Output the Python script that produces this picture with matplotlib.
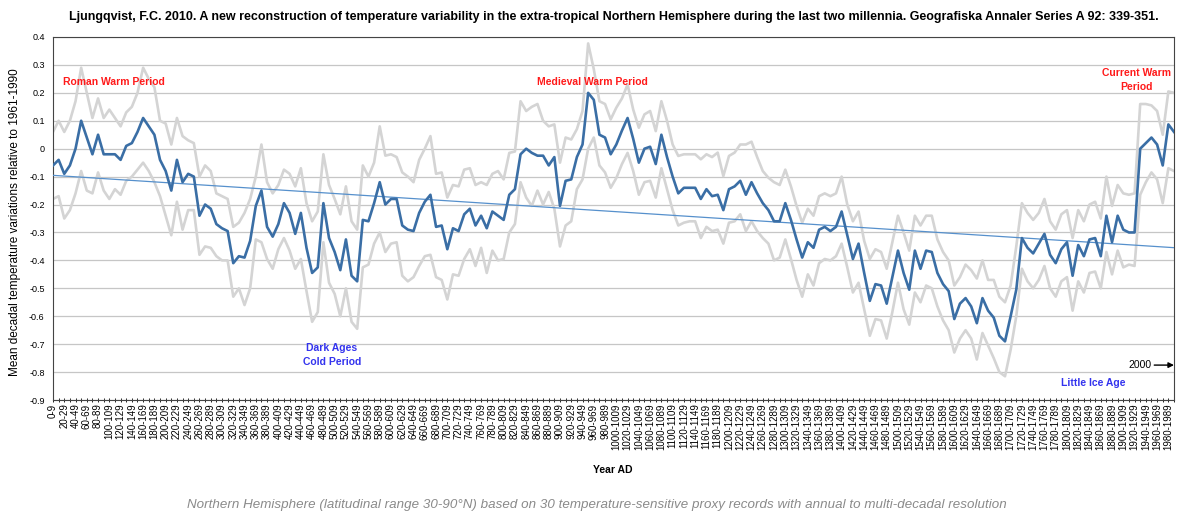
import numpy as np
import matplotlib
matplotlib.use('Agg')
import matplotlib.pyplot as plt

plt.rcParams['font.family'] = ['Liberation Sans', 'DejaVu Sans']

# Десятилетия 0-9 ... 1990-1999
decades = list(range(0, 2000, 10))
labels = [f"{d}-{d + 9}" for d in decades]

# Реконструкция (средняя)
recon = [
    -0.06, -0.04, -0.09, -0.06, 0.00, 0.10, 0.04, -0.02, 0.05, -0.02,
    -0.02, -0.02, -0.04, 0.01, 0.02, 0.06, 0.11, 0.08, 0.05, -0.04,
    -0.08, -0.15, -0.04, -0.12, -0.09, -0.10, -0.24, -0.20, -0.215, -0.27,
    -0.285, -0.295, -0.41, -0.385, -0.39, -0.33, -0.205, -0.15, -0.28, -0.315,
    -0.27, -0.195, -0.23, -0.305, -0.23, -0.355, -0.445, -0.425, -0.195, -0.32,
    -0.37, -0.435, -0.325, -0.455, -0.475, -0.255, -0.26, -0.195, -0.12, -0.20,
    -0.18, -0.18, -0.275, -0.29, -0.295, -0.23, -0.19, -0.165, -0.28, -0.275,
    -0.36, -0.285, -0.295, -0.235, -0.215, -0.275, -0.24, -0.285, -0.225, -0.24,
    -0.255, -0.165, -0.145, -0.02, 0.00, -0.015, -0.025, -0.025, -0.06, -0.03,
    -0.205, -0.115, -0.11, -0.03, 0.015, 0.20, 0.175, 0.05, 0.04, -0.02,
    0.015, 0.065, 0.11, 0.035, -0.05, 0.00, 0.007, -0.055, 0.05, -0.03,
    -0.10, -0.16, -0.14, -0.14, -0.14, -0.18, -0.145, -0.17, -0.165, -0.22,
    -0.145, -0.135, -0.115, -0.165, -0.12, -0.16, -0.195, -0.22, -0.26, -0.26,
    -0.195, -0.255, -0.325, -0.39, -0.335, -0.355, -0.29, -0.28, -0.295, -0.28,
    -0.225, -0.31, -0.395, -0.34, -0.445, -0.545, -0.485, -0.49, -0.555, -0.46,
    -0.365, -0.445, -0.505, -0.365, -0.43, -0.365, -0.37, -0.445, -0.485, -0.51,
    -0.61, -0.555, -0.535, -0.565, -0.625, -0.535, -0.58, -0.605, -0.67, -0.69,
    -0.60, -0.505, -0.32, -0.355, -0.375, -0.34, -0.305, -0.38, -0.41, -0.36,
    -0.335, -0.455, -0.345, -0.385, -0.325, -0.32, -0.385, -0.24, -0.335, -0.24,
    -0.29, -0.30, -0.30, 0.00, 0.02, 0.04, 0.015, -0.06, 0.087, 0.06,
]

# Верхняя граница
upper = [
    0.06, 0.10, 0.06, 0.10, 0.17, 0.29, 0.20, 0.11, 0.18, 0.11,
    0.14, 0.11, 0.08, 0.13, 0.15, 0.20, 0.29, 0.25, 0.22, 0.10,
    0.09, 0.015, 0.11, 0.045, 0.03, 0.02, -0.10, -0.06, -0.08, -0.16,
    -0.17, -0.18, -0.28, -0.265, -0.23, -0.18, -0.10, 0.015, -0.12, -0.16,
    -0.13, -0.075, -0.09, -0.135, -0.07, -0.195, -0.26, -0.225, -0.02, -0.13,
    -0.18, -0.235, -0.135, -0.26, -0.29, -0.06, -0.10, -0.05, 0.08, -0.025,
    -0.02, -0.03, -0.085, -0.10, -0.12, -0.04, 0.00, 0.045, -0.09, -0.085,
    -0.175, -0.13, -0.135, -0.075, -0.07, -0.13, -0.12, -0.13, -0.09, -0.08,
    -0.11, -0.015, -0.01, 0.17, 0.135, 0.15, 0.16, 0.10, 0.08, 0.087,
    -0.05, 0.04, 0.033, 0.07, 0.135, 0.377, 0.285, 0.17, 0.16, 0.105,
    0.147, 0.18, 0.23, 0.14, 0.075, 0.123, 0.135, 0.063, 0.17, 0.10,
    0.015, -0.026, -0.02, -0.02, -0.02, -0.038, -0.02, -0.03, -0.014, -0.098,
    -0.026, -0.014, 0.015, 0.015, 0.025, -0.03, -0.08, -0.104, -0.12, -0.13,
    -0.075, -0.135, -0.205, -0.265, -0.215, -0.24, -0.17, -0.16, -0.17, -0.16,
    -0.10, -0.20, -0.26, -0.225, -0.33, -0.395, -0.36, -0.37, -0.43, -0.335,
    -0.24, -0.30, -0.365, -0.24, -0.275, -0.24, -0.24, -0.325, -0.37, -0.40,
    -0.49, -0.46, -0.415, -0.435, -0.465, -0.40, -0.47, -0.47, -0.53, -0.55,
    -0.49, -0.35, -0.195, -0.23, -0.255, -0.23, -0.18, -0.26, -0.29, -0.235,
    -0.22, -0.32, -0.22, -0.26, -0.20, -0.19, -0.25, -0.10, -0.205, -0.13,
    -0.16, -0.165, -0.16, 0.16, 0.16, 0.155, 0.135, 0.05, 0.205, 0.20,
]

# Нижняя граница
lower = [
    -0.18, -0.17, -0.25, -0.22, -0.16, -0.08, -0.15, -0.16, -0.085, -0.15,
    -0.18, -0.145, -0.165, -0.115, -0.10, -0.075, -0.05, -0.08, -0.12, -0.17,
    -0.24, -0.31, -0.19, -0.29, -0.22, -0.22, -0.38, -0.35, -0.355, -0.385,
    -0.40, -0.40, -0.53, -0.50, -0.56, -0.50, -0.325, -0.335, -0.395, -0.43,
    -0.36, -0.32, -0.365, -0.43, -0.395, -0.51, -0.62, -0.585, -0.335, -0.48,
    -0.52, -0.60, -0.50, -0.62, -0.645, -0.425, -0.415, -0.34, -0.30, -0.37,
    -0.34, -0.335, -0.455, -0.475, -0.46, -0.42, -0.385, -0.38, -0.46, -0.47,
    -0.54, -0.45, -0.455, -0.395, -0.36, -0.42, -0.355, -0.445, -0.365, -0.40,
    -0.395, -0.30, -0.27, -0.12, -0.175, -0.205, -0.15, -0.20, -0.155, -0.215,
    -0.35, -0.275, -0.26, -0.145, -0.11, 0.00, 0.04, -0.06, -0.085, -0.14,
    -0.105, -0.055, -0.015, -0.08, -0.165, -0.12, -0.115, -0.175, -0.07, -0.145,
    -0.22, -0.275, -0.265, -0.26, -0.26, -0.32, -0.28, -0.295, -0.29, -0.34,
    -0.265, -0.26, -0.235, -0.295, -0.26, -0.295, -0.32, -0.34, -0.40, -0.39,
    -0.325, -0.395, -0.47, -0.53, -0.45, -0.49, -0.41, -0.395, -0.40, -0.385,
    -0.34, -0.425, -0.515, -0.48, -0.575, -0.67, -0.61, -0.615, -0.68, -0.585,
    -0.48, -0.575, -0.63, -0.515, -0.55, -0.49, -0.50, -0.565, -0.615, -0.65,
    -0.73, -0.68, -0.65, -0.68, -0.755, -0.66, -0.705, -0.75, -0.80, -0.815,
    -0.72, -0.60, -0.43, -0.475, -0.50, -0.47, -0.42, -0.50, -0.53, -0.475,
    -0.46, -0.58, -0.475, -0.515, -0.445, -0.44, -0.50, -0.37, -0.45, -0.365,
    -0.425, -0.415, -0.42, -0.165, -0.12, -0.085, -0.11, -0.195, -0.07, -0.08,
]

x = np.arange(len(decades))

# Линейный тренд (как в Excel)
k, b = np.polyfit(x, recon, 1)
trend = k * x + b

fig = plt.figure(figsize=(11.79, 5.13), dpi=100)
ax = fig.add_axes([53 / 1179, 1 - 400 / 513, 1121 / 1179, 363 / 513])

ax.plot(x, upper, color='#d4d4d4', lw=1.9, zorder=2)
ax.plot(x, lower, color='#d4d4d4', lw=1.9, zorder=2)
ax.plot(x, trend, color='#5690cc', lw=0.9, zorder=3)
ax.plot(x, recon, color='#3a6ea5', lw=1.9, zorder=4)

ax.set_xlim(0, len(decades) - 1)
ax.set_ylim(-0.9, 0.4)
yt = np.round(np.arange(-0.9, 0.41, 0.1), 1)
ax.set_yticks(yt)
ax.set_yticklabels(['0' if v == 0 else f'{v:.1f}' for v in yt], fontsize=6.5)
ax.tick_params(axis='y', length=0, pad=6)
ax.grid(axis='y', color='#c6c6c6', lw=0.9)
ax.set_axisbelow(True)

ax.set_xticks(x, minor=True)
ax.set_xticks(x[::2])
ax.set_xticklabels(labels[::2], rotation=90, fontsize=7)
ax.tick_params(axis='x', which='both', direction='inout', length=3, width=0.6, pad=1)

for s in ax.spines.values():
    s.set_color('#444444')
    s.set_linewidth(0.8)

# Подписи периодов
ax.text(10.8, 0.24, 'Roman Warm Period', color='#ff1a1a', fontsize=7.5,
        fontweight='bold', ha='center', va='center')
ax.text(95.7, 0.24, 'Medieval Warm Period', color='#ff1a1a', fontsize=7.5,
        fontweight='bold', ha='center', va='center')
ax.text(192.3, 0.245, 'Current Warm\nPeriod', color='#ff1a1a', fontsize=7.5,
        fontweight='bold', ha='center', va='center', linespacing=1.5)
ax.text(49.5, -0.74, 'Dark Ages\nCold Period', color='#3333ee', fontsize=7.5,
        fontweight='bold', ha='center', va='center', linespacing=1.5)
ax.text(184.6, -0.84, 'Little Ice Age', color='#3333ee', fontsize=7.5,
        fontweight='bold', ha='center', va='center')
ax.annotate('2000', xy=(199, -0.775), xytext=(195.0, -0.775), fontsize=7.5,
            ha='right', va='center',
            arrowprops=dict(arrowstyle='-|>', color='black', lw=1,
                            mutation_scale=8, shrinkA=0, shrinkB=0))

fig.text(614 / 1179, 1 - 17 / 513,
         'Ljungqvist, F.C. 2010. A new reconstruction of temperature variability in the '
         'extra-tropical Northern Hemisphere during the last two millennia. '
         'Geografiska Annaler Series A 92: 339-351.',
         ha='center', va='center', fontsize=9, fontweight='bold')
fig.text(15 / 1179, 1 - 222 / 513, 'Mean decadal temperature variations relative to 1961-1990',
         rotation=90, ha='center', va='center', fontsize=8.5)
fig.text(613 / 1179, 1 - 470 / 513, 'Year AD', ha='center', va='center',
         fontsize=7.5, fontweight='bold')
fig.text(597 / 1179, 1 - 505 / 513,
         'Northern Hemisphere (latitudinal range 30-90\u00b0N) based on 30 temperature-sensitive '
         'proxy records with annual to multi-decadal resolution',
         ha='center', va='center', fontsize=9.6, style='italic', color='#8a8a8a')

fig.savefig('out.png', dpi=100)
